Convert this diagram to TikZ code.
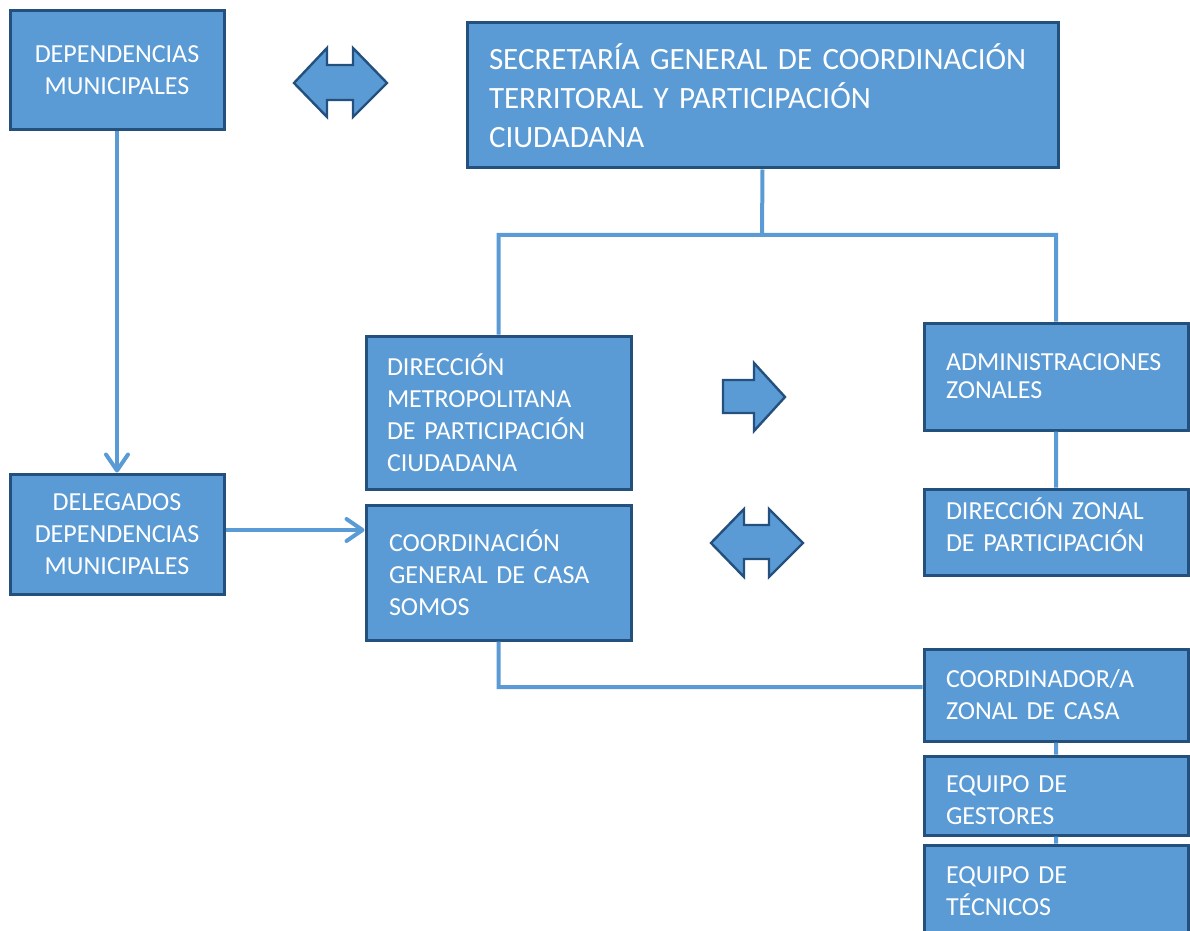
\documentclass[tikz,border=0pt]{standalone}
\usepackage{fontspec}
\setmainfont{Carlito}
\usetikzlibrary{arrows.meta}
\definecolor{boxfill}{HTML}{5B9BD5}
\definecolor{boxline}{HTML}{24507E}
\definecolor{linkline}{HTML}{5B9BD5}

\begin{document}
\begin{tikzpicture}[x=0.5pt, y=-0.5pt,
  every node/.style={draw=boxline, line width=1.5pt, fill=boxfill, text=white,
    font=\fontsize{13}{16}\selectfont},
  cbox/.style={align=center, minimum width=107pt},
  lbox/.style={align=left, inner xsep=11pt, text width=110pt},
  link/.style={draw=linkline, line width=2pt},
  fatarrow/.style={draw=boxline, line width=1.2pt, fill=boxfill, line join=miter}]
  \clip (0, 0) rectangle (1190, 931);

  \node[cbox, minimum height=59.5pt]
    (dep) at (117, 70.5) {DEPENDENCIAS\\MUNICIPALES};

  \node[lbox, text width=273.5pt, minimum height=72.5pt, font=\fontsize{15.5}{19.5}\selectfont]
    (sec) at (762.5, 95.5) {SECRETARÍA GENERAL DE COORDINACIÓN\\TERRITORAL Y PARTICIPACIÓN\\CIUDADANA};

  \node[lbox, inner xsep=10.5pt, text width=111.5pt, minimum height=76.5pt]
    (dmpc) at (498.5, 412.5) {DIRECCIÓN\\METROPOLITANA\\DE PARTICIPACIÓN\\CIUDADANA};

  \node[lbox, minimum height=53.5pt, font=\fontsize{13}{14}\selectfont]
    (adm) at (1056, 376.5) {ADMINISTRACIONES\\ZONALES};

  \node[lbox, minimum height=43pt]
    (dzp) at (1056, 532) {DIRECCIÓN ZONAL\\DE PARTICIPACIÓN\\[-9pt]\mbox{}};

  \node[cbox, minimum height=60pt]
    (del) at (117, 534) {DELEGADOS\\DEPENDENCIAS\\MUNICIPALES};

  \node[lbox, inner xsep=11.5pt, text width=109.5pt, minimum height=67.5pt]
    (cgc) at (498.5, 572.5) {COORDINACIÓN\\GENERAL DE CASA\\SOMOS};

  \node[lbox, minimum height=46pt]
    (coz) at (1056, 695) {COORDINADOR/A\\ZONAL DE CASA};

  \node[lbox, minimum height=39.5pt]
    (eqg) at (1056, 795.5) {\\[-3pt]EQUIPO DE\\GESTORES};

  \node[lbox, minimum height=46pt]
    (eqt) at (1056, 891) {EQUIPO DE\\TÉCNICOS};

  \coordinate (j1) at (762, 235);

  % fat arrows between the boxes
  \draw[fatarrow]
    (294, 83) -- (327, 48) -- (327, 65) -- (353, 65) -- (353, 48) -- (387, 83)
    -- (353, 117) -- (353, 100) -- (327, 100) -- (327, 117) -- cycle;
  \draw[fatarrow]
    (723, 380) -- (754, 380) -- (754, 363) -- (785, 397)
    -- (754, 431) -- (754, 413) -- (723, 413) -- cycle;
  \draw[fatarrow]
    (711, 543) -- (744, 509) -- (744, 525) -- (769, 525) -- (769, 509) -- (803, 543)
    -- (769, 577) -- (769, 559) -- (744, 559) -- (744, 577) -- cycle;

  \draw[link]
    (sec.south) -- (j1)
    (dmpc.north) |- (j1) -| (adm.north)
    (adm.south) -- (dzp.north)
    (cgc.south) |- ([yshift=4pt]coz.west)
    (coz.south) -- (eqg.north)
    (eqg.south) -- (eqt.north);

  \draw[link, ->, >={Straight Barb[length=8pt, width=11pt, round]}]
    (dep.south) -- (del.north);

  \draw[link, ->, >={Straight Barb[length=8pt, width=11pt, round]}]
    ([yshift=2pt]del.east) -- ([yshift=2pt]del.east -| cgc.west);
\end{tikzpicture}
\end{document}
